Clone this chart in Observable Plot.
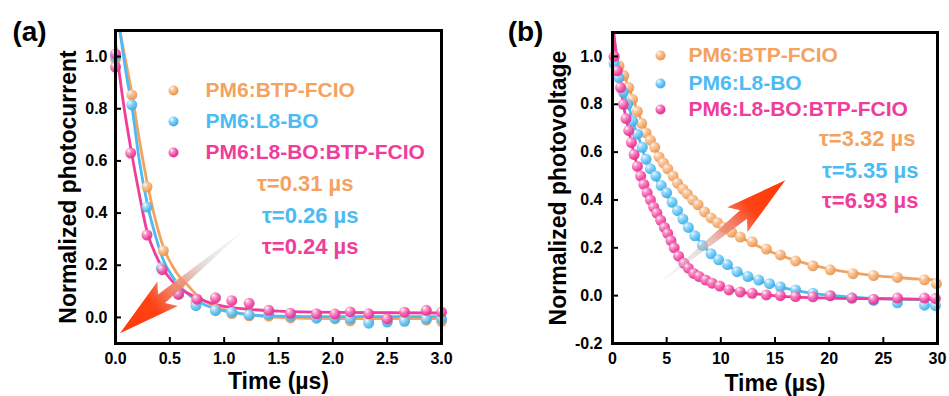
<!DOCTYPE html>
<html><head><meta charset="utf-8">
<script src="https://cdn.jsdelivr.net/npm/d3@7"></script>
<script src="https://cdn.jsdelivr.net/npm/@observablehq/plot@0.6"></script>
<style>
body{margin:0;background:#fff;font-family:"Liberation Sans",Arial,sans-serif;}
#wrap{position:relative;width:949px;height:396px;display:flex;}
#wrap svg{display:block;overflow:visible}
</style></head><body>
<svg id="defs" width="0" height="0" style="position:absolute"><defs></defs></svg>
<div id="wrap"></div>
<script>
// ---------- data ----------
const seriesNames = ["PM6:BTP-FCIO", "PM6:L8-BO", "PM6:L8-BO:BTP-FCIO"];
const colors = ["#F4A35F", "#4DBBF3", "#F03D9B"];
const tauA = ["τ=0.31 µs", "τ=0.26 µs", "τ=0.24 µs"];
const tauB = ["τ=3.32 µs", "τ=5.35 µs", "τ=6.93 µs"];

// panel (a): photocurrent
const tA_orange = [0.0, 0.15, 0.29, 0.44, 0.59, 0.74, 0.92, 1.07, 1.23, 1.41, 1.61, 1.85, 2.02, 2.16, 2.33, 2.5, 2.66, 2.86, 3.0];
const vA_orange = [0.99, 0.853, 0.5, 0.256, 0.13, 0.06, 0.03, 0.015, 0.006, 0.005, -0.002, 0.0, -0.005, -0.013, -0.01, -0.013, -0.01, -0.01, -0.015];
const tA_blue = [0.0, 0.15, 0.29, 0.42, 0.58, 0.74, 0.92, 1.07, 1.23, 1.41, 1.61, 1.85, 2.02, 2.16, 2.33, 2.5, 2.66, 2.86, 3.0];
const vA_blue = [1.0, 0.815, 0.423, 0.19, 0.09, 0.045, 0.026, 0.02, 0.01, 0.012, 0.005, -0.003, -0.003, -0.005, -0.022, -0.018, -0.015, -0.006, -0.005];
const tA_pink = [0.0, 0.0, 0.14, 0.29, 0.43, 0.58, 0.75, 0.92, 1.07, 1.23, 1.41, 1.61, 1.85, 2.02, 2.16, 2.33, 2.5, 2.66, 2.86, 3.0];
const vA_pink = [1.01, 0.96, 0.63, 0.316, 0.183, 0.088, 0.07, 0.075, 0.064, 0.054, 0.027, 0.016, 0.014, 0.013, 0.021, 0.014, -0.006, 0.02, 0.027, 0.02];
// fitted curves (a)
const fA_orange_t = [0.04, 0.1, 0.15, 0.22, 0.29, 0.37, 0.44, 0.52, 0.6, 0.66, 0.75, 0.9, 1.0, 1.2, 1.5, 2.0, 2.5, 3.0];
const fA_orange_v = [1.1, 0.97, 0.86, 0.68, 0.52, 0.37, 0.27, 0.2, 0.15, 0.125, 0.085, 0.045, 0.03, 0.012, 0.0, -0.005, -0.005, -0.005];
const fA_blue_t = [0.04, 0.1, 0.15, 0.22, 0.29, 0.37, 0.44, 0.52, 0.6, 0.75, 0.9, 1.0, 1.2, 1.5, 2.0, 3.0];
const fA_blue_v = [1.1, 0.93, 0.81, 0.6, 0.44, 0.31, 0.22, 0.16, 0.115, 0.065, 0.035, 0.025, 0.012, 0.005, 0.003, 0.003];
const fA_pink_t = [0.0, 0.07, 0.14, 0.22, 0.29, 0.37, 0.44, 0.52, 0.6, 0.75, 0.9, 1.0, 1.2, 1.5, 2.0, 3.0];
const fA_pink_v = [1.05, 0.83, 0.65, 0.47, 0.33, 0.24, 0.185, 0.14, 0.11, 0.075, 0.052, 0.042, 0.032, 0.024, 0.019, 0.017];

// panel (b): photovoltage
const tB_orange = [0.15, 0.6, 1.05, 1.5, 1.85, 2.3, 2.7, 3.1, 3.5, 3.9, 4.3, 4.7, 5.1, 5.6, 6.0, 6.5, 6.9, 7.4, 7.9, 8.5, 9.1, 9.7, 10.3, 11.0, 11.8, 12.9, 14.2, 15.5, 16.9, 18.5, 20.1, 22.2, 24.1, 26.3, 28.8, 29.9];
const vB_orange = [1.0, 0.96, 0.92, 0.87, 0.82, 0.77, 0.72, 0.68, 0.65, 0.62, 0.58, 0.555, 0.53, 0.50, 0.47, 0.445, 0.425, 0.40, 0.38, 0.35, 0.325, 0.305, 0.285, 0.265, 0.245, 0.225, 0.195, 0.17, 0.145, 0.125, 0.108, 0.092, 0.084, 0.076, 0.066, 0.05];
const tB_blue = [0.15, 0.6, 1.0, 1.4, 1.85, 2.3, 2.75, 3.1, 3.5, 4.0, 4.5, 5.0, 5.5, 6.0, 6.5, 7.0, 7.6, 8.3, 9.1, 9.8, 10.6, 11.5, 12.5, 13.5, 14.5, 15.5, 16.9, 18.5, 20.1, 22.1, 24.1, 26.3, 28.8, 29.8];
const vB_blue = [0.97, 0.91, 0.85, 0.80, 0.73, 0.675, 0.62, 0.57, 0.53, 0.50, 0.46, 0.43, 0.39, 0.355, 0.32, 0.285, 0.25, 0.21, 0.175, 0.15, 0.13, 0.10, 0.08, 0.065, 0.05, 0.037, 0.024, 0.01, 0.0, -0.01, -0.02, -0.03, -0.04, -0.042];
const tB_pink = [0.15, 0.45, 0.75, 1.0, 1.25, 1.5, 1.75, 2.0, 2.3, 2.6, 2.9, 3.2, 3.5, 3.8, 4.1, 4.45, 4.8, 5.1, 5.4, 5.7, 6.1, 6.6, 7.0, 7.5, 8.0, 8.6, 9.2, 9.9, 10.75, 11.8, 12.9, 14.2, 15.5, 16.9, 18.5, 20.1, 22.1, 24.1, 26.3, 28.8, 29.8];
const vB_pink = [1.0, 0.94, 0.87, 0.80, 0.74, 0.69, 0.64, 0.59, 0.54, 0.50, 0.465, 0.43, 0.40, 0.37, 0.345, 0.315, 0.285, 0.26, 0.23, 0.20, 0.165, 0.135, 0.115, 0.093, 0.08, 0.065, 0.052, 0.04, 0.024, 0.015, 0.01, 0.003, 0.0, -0.004, -0.005, 0.0, -0.01, -0.015, -0.01, -0.01, -0.012];
// fitted curves (b)
const fB_orange_t = [0.1, 0.5, 1, 1.5, 2, 2.5, 3, 3.5, 4, 5, 6, 7, 8, 9, 10, 11, 12, 14, 16, 18, 20, 22, 24, 26, 28, 30];
const fB_orange_v = [1.1, 0.98, 0.93, 0.87, 0.81, 0.75, 0.70, 0.65, 0.61, 0.535, 0.47, 0.415, 0.37, 0.33, 0.295, 0.265, 0.24, 0.195, 0.16, 0.133, 0.112, 0.096, 0.085, 0.077, 0.07, 0.065];
const fB_blue_t = [0.1, 0.5, 1, 1.5, 2, 2.5, 3, 3.5, 4, 5, 6, 7, 8, 9, 10, 11, 12, 13, 14, 16, 18, 20, 22, 24, 26, 28, 30];
const fB_blue_v = [1.1, 0.93, 0.85, 0.79, 0.71, 0.65, 0.58, 0.53, 0.49, 0.42, 0.35, 0.285, 0.23, 0.18, 0.145, 0.115, 0.09, 0.07, 0.055, 0.03, 0.013, 0.002, -0.006, -0.011, -0.014, -0.016, -0.017];
const fB_pink_t = [0.1, 0.5, 1, 1.5, 2, 2.5, 3, 3.5, 4, 4.5, 5, 5.5, 6, 6.5, 7, 8, 9, 10, 11, 12, 14, 16, 20, 25, 30];
const fB_pink_v = [1.1, 0.95, 0.80, 0.69, 0.59, 0.51, 0.45, 0.40, 0.355, 0.31, 0.265, 0.22, 0.175, 0.14, 0.115, 0.08, 0.055, 0.037, 0.024, 0.014, 0.004, -0.004, -0.01, -0.013, -0.015];

// axes
const ticksXA = [0, 0.5, 1.0, 1.5, 2.0, 2.5, 3.0];
const ticksYA = [0, 0.2, 0.4, 0.6, 0.8, 1.0];
const ticksXB = [0, 5, 10, 15, 20, 25, 30];
const ticksYB = [-0.2, 0, 0.2, 0.4, 0.6, 0.8, 1.0];
// arrows [tail x, tail y, tip x, tip y] in data units
const arrowA = [1.15, 0.32, 0.046, -0.063];
const arrowB = [4.6, 0.058, 16.0, 0.48];

// ---------- gradients for shaded spheres ----------
const defs = d3.select("#defs defs");
const gid = ["gO", "gB", "gP"];
colors.forEach((c, i) => {
  const g = defs.append("radialGradient").attr("id", gid[i])
    .attr("cx", "35%").attr("cy", "32%").attr("r", "70%").attr("fx", "32%").attr("fy", "28%");
  g.append("stop").attr("offset", "0%").attr("stop-color", "#ffffff");
  g.append("stop").attr("offset", "30%").attr("stop-color", d3.interpolateRgb("#ffffff", c)(0.55));
  g.append("stop").attr("offset", "75%").attr("stop-color", c);
  g.append("stop").attr("offset", "100%").attr("stop-color", d3.color(c).darker(0.25).formatHex());
});

const fmt1 = d => d.toFixed(1);
const FONT = "Liberation Sans, Arial, sans-serif";

function panel(cfg) {
  const fw = cfg.width - cfg.ml - cfg.mr, fh = 396 - cfg.mt - cfg.mb;
  const marks = [];
  const pts = cfg.points, fits = cfg.fits;
  for (let i = 0; i < 3; i++) {
    marks.push(Plot.line(fits[i][0], {x: fits[i][0], y: fits[i][1], stroke: colors[i], strokeWidth: 2.8, curve: "monotone-x", clip: true}));
  }
  for (let i = 0; i < 3; i++) {
    marks.push(Plot.dot(pts[i][0], {x: pts[i][0], y: pts[i][1], r: cfg.r, fill: `url(#${gid[i]})`, fillOpacity: 0.92, stroke: "none", clip: false}));
  }
  marks.push(
    Plot.frame({stroke: "#000", strokeWidth: 3}),
    Plot.ruleX(cfg.tx, {x: d => d, insetTop: fh - 6, stroke: "#000", strokeWidth: 2}),
    Plot.ruleY(cfg.ty, {y: d => d, insetRight: fw - 6, stroke: "#000", strokeWidth: 2}),
    Plot.axisX(cfg.tx, {tickSize: 0, tickPadding: 9, fontSize: 16, fontWeight: "bold", tickFormat: cfg.fx, label: null, fill: "#000"}),
    Plot.axisY(cfg.ty, {tickSize: 0, tickPadding: cfg.typad, fontSize: 16, fontWeight: "bold", tickFormat: fmt1, label: null, fill: "#000"}),
    Plot.text([cfg.ylabel], {text: d => d, frameAnchor: "left", dx: cfg.ylx, rotate: -90, textAnchor: "middle", lineAnchor: "middle", fontSize: 23, fontWeight: "bold", fill: "#000"}),
    Plot.text(["Time (µs)"], {text: d => d, frameAnchor: "bottom", dy: cfg.xly, textAnchor: "middle", lineAnchor: "middle", fontSize: 23, fontWeight: "bold", fill: "#000"}),
    Plot.text([cfg.tag], {text: d => d, frameAnchor: "top-left", dx: cfg.tagdx, dy: cfg.tagdy, textAnchor: "middle", lineAnchor: "middle", fontSize: 28, fontWeight: "bold", fill: "#000"})
  );
  for (let i = 0; i < 3; i++) {
    marks.push(Plot.dot([0], {frameAnchor: "top-left", dx: cfg.lgx, dy: cfg.lgy[i], r: 5, fill: `url(#${gid[i]})`}));
    marks.push(Plot.text([seriesNames[i]], {text: d => d, frameAnchor: "top-left", dx: cfg.lgtx, dy: cfg.lgy[i], textAnchor: "start", lineAnchor: "middle", fontSize: 21, fontWeight: "bold", fill: colors[i]}));
    marks.push(Plot.text([cfg.tau[i]], {text: d => d, frameAnchor: "top-left", dx: cfg.taux[i], dy: cfg.tauy[i], textAnchor: "end", lineAnchor: "middle", fontSize: 22, fontWeight: "bold", fill: colors[i]}));
  }
  const chart = Plot.plot({
    width: cfg.width, height: 396,
    marginLeft: cfg.ml, marginRight: cfg.mr, marginTop: cfg.mt, marginBottom: cfg.mb,
    x: {domain: cfg.xd}, y: {domain: cfg.yd},
    style: {fontFamily: FONT, color: "#000", background: "transparent", overflow: "visible"},
    marks
  });
  // arrow drawn through the chart's own scales
  const sx = chart.scale("x"), sy = chart.scale("y");
  const X = d3.scaleLinear(sx.domain, sx.range), Y = d3.scaleLinear(sy.domain, sy.range);
  const a = cfg.arrow;
  const x1 = X(a[0]), y1 = Y(a[1]), x2 = X(a[2]), y2 = Y(a[3]);
  const L = Math.hypot(x2 - x1, y2 - y1), ux = (x2 - x1) / L, uy = (y2 - y1) / L, px = -uy, py = ux;
  const head = 62, half = 16, notch = 8, w0 = 0.6, w1 = 5.5;
  const bx = x2 - ux * head, by = y2 - uy * head;
  const nx = x2 - ux * (head - notch), ny = y2 - uy * (head - notch);
  const P = [
    [x1 + px * w0, y1 + py * w0],
    [nx + px * w1, ny + py * w1],
    [bx + px * half, by + py * half],
    [x2, y2],
    [bx - px * half, by - py * half],
    [nx - px * w1, ny - py * w1],
    [x1 - px * w0, y1 - py * w0]
  ];
  const svg = d3.select(chart);
  const gradId = "arr" + cfg.tag.replace(/\W/g, "");
  const lg = svg.append("defs").append("linearGradient").attr("id", gradId)
    .attr("gradientUnits", "userSpaceOnUse").attr("x1", x1).attr("y1", y1).attr("x2", x2).attr("y2", y2);
  lg.append("stop").attr("offset", "0%").attr("stop-color", "#d0d0d0").attr("stop-opacity", 0.1);
  lg.append("stop").attr("offset", "30%").attr("stop-color", "#cfc4c2").attr("stop-opacity", 0.55);
  lg.append("stop").attr("offset", "55%").attr("stop-color", "#f07a62").attr("stop-opacity", 0.9);
  lg.append("stop").attr("offset", "72%").attr("stop-color", "#ff4215").attr("stop-opacity", 1);
  lg.append("stop").attr("offset", "100%").attr("stop-color", "#ff3a06").attr("stop-opacity", 1);
  svg.append("path").attr("d", "M" + P.map(p => p.join(",")).join("L") + "Z").attr("fill", `url(#${gradId})`);
  return chart;
}

const wrap = document.getElementById("wrap");
wrap.append(panel({
  tag: "(a)", width: 480, ml: 115, mr: 39, mt: 30, mb: 53,
  xd: [0, 3], yd: [-0.1, 1.1], tx: ticksXA, ty: ticksYA, fx: fmt1, typad: 8,
  r: 5.5,
  points: [[tA_orange, vA_orange], [tA_blue, vA_blue], [tA_pink, vA_pink]],
  fits: [[fA_orange_t, fA_orange_v], [fA_blue_t, fA_blue_v], [fA_pink_t, fA_pink_v]],
  ylabel: "Normalized photocurrent", ylx: -47, xly: 38, tagdx: -86, tagdy: 2,
  lgx: 58, lgy: [60, 91, 122], lgtx: 90,
  tau: tauA, taux: [238, 243, 243], tauy: [153, 185, 216],
  arrow: arrowA
}));
wrap.append(panel({
  tag: "(b)", width: 469, ml: 132, mr: 12, mt: 32, mb: 53,
  xd: [0, 30], yd: [-0.2, 1.1], tx: ticksXB, ty: ticksYB, fx: d => String(d), typad: 10,
  r: 5.5,
  points: [[tB_orange, vB_orange], [tB_blue, vB_blue], [tB_pink, vB_pink]],
  fits: [[fB_orange_t, fB_orange_v], [fB_blue_t, fB_blue_v], [fB_pink_t, fB_pink_v]],
  ylabel: "Normalized photovoltage", ylx: -54, xly: 40, tagdx: -87, tagdy: 0,
  lgx: 48, lgy: [23, 51, 77], lgtx: 76,
  tau: tauB, taux: [303, 306, 306], tauy: [106, 138, 168],
  arrow: arrowB
}));
</script>
</body></html>
